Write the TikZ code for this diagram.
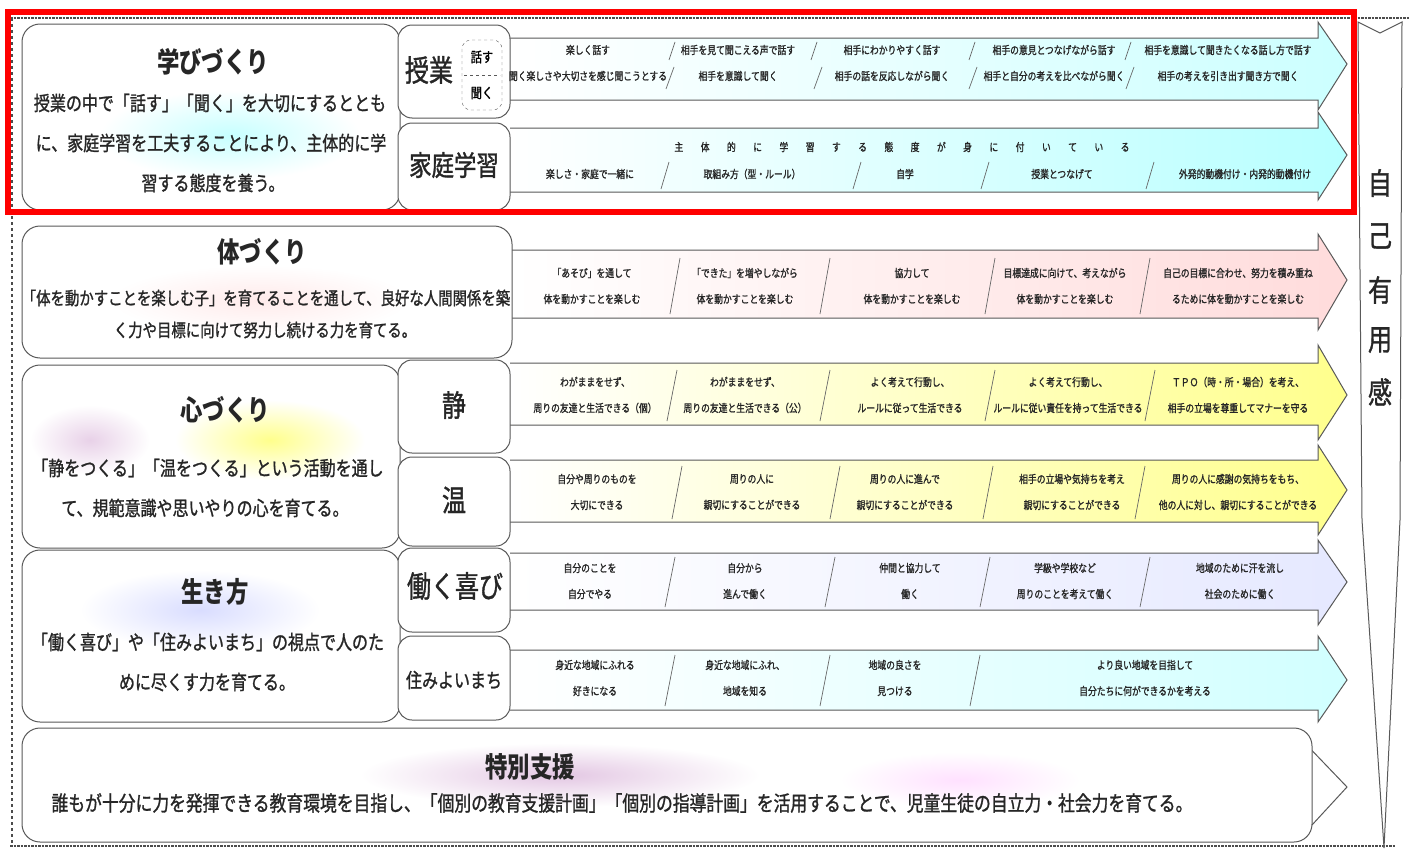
\documentclass[tikz,border=0pt]{standalone}
\usepackage{fontspec}
\newfontfamily\jp[FakeStretch=0.8]{Noto Sans CJK JP}
\newfontfamily\jpm[FakeStretch=0.8, FakeBold=1.2]{Noto Sans CJK JP}
\usepackage{tikz}
\tikzstyle{stg} = [font=\jpm\fontsize{11}{26}\selectfont, align=center, inner sep=0pt, text=black!85]
\tikzstyle{lead} = [font=\jpm\fontsize{20}{24}\selectfont, inner sep=0pt, text=black!85]
\tikzstyle{ttl} = [font=\jp\bfseries\fontsize{28}{30}\selectfont, inner sep=0pt, text=black!85]
\tikzstyle{big} = [font=\jpm\fontsize{30}{32}\selectfont, inner sep=0pt, text=black!85]
\tikzstyle{box} = [draw=black!65, line width=1pt, rounded corners=18pt, fill=white]
\tikzstyle{sub} = [draw=black!65, line width=1pt, rounded corners=14pt, fill=white]
\tikzstyle{bar} = [draw=black!65, line width=1pt]
\tikzstyle{cut} = [draw=black!60, line width=0.7pt]

\begin{document}
\begin{tikzpicture}[x=1pt, y=-1pt]
  \useasboundingbox (0,0) rectangle (1409,854);
  \fill[white] (0,0) rectangle (1409,854);

  % frame
  \draw[black!70, line width=2.5pt, densely dotted] (10,18) -- (1409,18);
  \draw[black!70, line width=2.5pt, densely dotted] (10,846) -- (1395,846);
  \draw[black!70, line width=1.5pt, dashed] (12,18) -- (12,846);

  % arrows
  \draw[bar, left color=white, right color=cyan!20] (510,38) -- (1318,38) -- (1318,22) -- (1347,64) -- (1318,110) -- (1318,100) -- (510,100);
  \draw[bar, left color=white, right color=cyan!28] (510,128) -- (1318,128) -- (1318,112) -- (1347,155) -- (1318,200) -- (1318,192) -- (510,192);
  \draw[bar, left color=white, right color=red!14] (512,250) -- (1318,250) -- (1318,234) -- (1347,280) -- (1318,330) -- (1318,318) -- (512,318);
  \draw[bar, left color=white, right color=yellow!45] (510,363) -- (1318,363) -- (1318,345) -- (1347,395) -- (1318,440) -- (1318,425) -- (510,425);
  \draw[bar, left color=white, right color=yellow!45] (510,460) -- (1318,460) -- (1318,445) -- (1347,490) -- (1318,535) -- (1318,522) -- (510,522);
  \draw[bar, left color=white, right color=cyan!12!blue!10] (510,553) -- (1318,553) -- (1318,540) -- (1347,582) -- (1318,625) -- (1318,610) -- (510,610);
  \draw[bar, left color=white, right color=cyan!18] (510,650) -- (1318,650) -- (1318,636) -- (1347,680) -- (1318,722) -- (1318,710) -- (510,710);
  \draw[bar, fill=white] (1300,738) -- (1347,787) -- (1300,838);

  % left boxes
  \draw[box] (22,24) rectangle (400,210);
  \shade[inner color=cyan!22, outer color=white] (230,135) ellipse (130 and 45);
  \draw[sub] (398,25) rectangle (510,118);
  \draw[sub] (398,123) rectangle (510,210);
  \draw[box] (22,226) rectangle (512,358);
  \shade[inner color=red!8, outer color=white] (260,300) ellipse (150 and 35);
  \draw[box] (22,365) rectangle (400,548);
  \shade[inner color=yellow!45, outer color=white] (270,440) ellipse (95 and 40);
  \shade[inner color=violet!18, outer color=white] (90,440) ellipse (60 and 35);
  \draw[sub] (398,360) rectangle (510,453);
  \draw[sub] (398,457) rectangle (510,546);
  \draw[box] (22,550) rectangle (400,722);
  \shade[inner color=cyan!10!blue!15, outer color=white] (200,610) ellipse (120 and 40);
  \draw[sub] (398,548) rectangle (510,632);
  \draw[sub] (398,636) rectangle (510,720);
  \draw[box] (22,728) rectangle (1312,842);
  \shade[inner color=violet!22, outer color=white] (560,775) ellipse (200 and 32);
  \shade[inner color=magenta!12, outer color=white] (960,780) ellipse (120 and 28);

  % right column
  \draw[bar, fill=white] (1358,22) -- (1380,33) -- (1402,22) -- (1400,520) -- (1384,848) -- (1362,520) -- cycle;
  \node (v1) at (1380,183) [big] {自};
  \node (v2) at (1380,236) [big] {己};
  \node (v3) at (1380,290) [big] {有};
  \node (v4) at (1380,340) [big] {用};
  \node (v5) at (1380,392) [big] {感};

  % highlight
  \draw[red, line width=6pt] (8,12) rectangle (1354,212);

  % 学びづくり
  \node (mana) at (213,62) [ttl] {学びづくり};
  \node (mana1) at (210,103) [lead] {授業の中で「話す」「聞く」を大切にするととも};
  \node (mana2) at (211,143) [lead] {に、家庭学習を工夫することにより、主体的に学};
  \node (mana3) at (213,183) [lead] {習する態度を養う。};
  \node (jugyo) at (429,70) [big] {授業};
  \draw[black!65, dashed, rounded corners=9pt] (462,40) rectangle (502,110);
  \draw[black!65, dashed] (464,75) -- (500,75);
  \node (hanasu) at (482,57) [font=\jpm\fontsize{14}{16}\selectfont, inner sep=0pt] {話す};
  \node (kiku) at (482,93) [font=\jpm\fontsize{14}{16}\selectfont, inner sep=0pt] {聞く};
  \node (katei) at (454,165) [big, font=\jpm\fontsize{28}{30}\selectfont] {家庭学習};

  \node (j1) at (588,63) [stg] {楽しく話す\\聞く楽しさや大切さを感じ聞こうとする};
  \node (j2) at (738,63) [stg] {相手を見て聞こえる声で話す\\相手を意識して聞く};
  \node (j3) at (892,63) [stg] {相手にわかりやすく話す\\相手の話を反応しながら聞く};
  \node (j4) at (1054,63) [stg] {相手の意見とつなげながら話す\\相手と自分の考えを比べながら聞く};
  \node (j5) at (1228,63) [stg] {相手を意識して聞きたくなる話し方で話す\\相手の考えを引き出す聞き方で聞く};
  \foreach \x in {672,814,972,1128} \draw[cut] (\x+3,42) -- (\x-3,60);
  \foreach \x in {670,818,973,1130} \draw[cut] (\x+4,67) -- (\x-4,89);

  \node (k0) at (902,147) [stg] {\makebox[455pt]{主\hfill 体\hfill 的\hfill に\hfill 学\hfill 習\hfill す\hfill る\hfill 態\hfill 度\hfill が\hfill 身\hfill に\hfill 付\hfill い\hfill て\hfill い\hfill る}};
  \node (k1) at (590,174) [stg] {楽しさ・家庭で一緒に};
  \node (k2) at (752,174) [stg] {取組み方（型・ルール）};
  \node (k3) at (905,174) [stg] {自学};
  \node (k4) at (1062,174) [stg] {授業とつなげて};
  \node (k5) at (1245,174) [stg] {外発的動機付け・内発的動機付け};
  \foreach \x in {665,857,985,1150} \draw[cut] (\x+4,162) -- (\x-4,189);

  % 体づくり
  \node (karada) at (262,252) [ttl] {体づくり};
  \node (karada1) at (266,298) [lead, font=\jpm\fontsize{18}{20}\selectfont] {「体を動かすことを楽しむ子」を育てることを通して、良好な人間関係を築};
  \node (karada2) at (265,330) [lead, font=\jpm\fontsize{18}{20}\selectfont] {く力や目標に向けて努力し続ける力を育てる。};
  \node (t1) at (592,286) [stg] {「あそび」を通して\\体を動かすことを楽しむ};
  \node (t2) at (745,286) [stg] {「できた」を増やしながら\\体を動かすことを楽しむ};
  \node (t3) at (912,286) [stg] {協力して\\体を動かすことを楽しむ};
  \node (t4) at (1065,286) [stg] {目標達成に向けて、考えながら\\体を動かすことを楽しむ};
  \node (t5) at (1238,286) [stg] {自己の目標に合わせ、努力を積み重ね\\るために体を動かすことを楽しむ};
  \foreach \x in {675,825,990,1145} \draw[cut] (\x+5,258) -- (\x-5,314);

  % 心づくり
  \node (kokoro) at (225,410) [ttl] {心づくり};
  \node (kokoro1) at (208,468) [lead] {「静をつくる」「温をつくる」という活動を通し};
  \node (kokoro2) at (205,508) [lead] {て、規範意識や思いやりの心を育てる。};
  \node (sei) at (454,405) [big] {静};
  \node (on) at (454,500) [big] {温};
  \node (s1) at (595,395) [stg] {わがままをせず、\\周りの友達と生活できる（個）};
  \node (s2) at (745,395) [stg] {わがままをせず、\\周りの友達と生活できる（公）};
  \node (s3) at (910,395) [stg] {よく考えて行動し、\\ルールに従って生活できる};
  \node (s4) at (1068,395) [stg] {よく考えて行動し、\\ルールに従い責任を持って生活できる};
  \node (s5) at (1238,395) [stg] {ＴＰＯ（時・所・場合）を考え、\\相手の立場を尊重してマナーを守る};
  \foreach \x in {672,825,990,1150} \draw[cut] (\x+5,370) -- (\x-5,421);
  \node (o1) at (597,492) [stg] {自分や周りのものを\\大切にできる};
  \node (o2) at (752,492) [stg] {周りの人に\\親切にすることができる};
  \node (o3) at (905,492) [stg] {周りの人に進んで\\親切にすることができる};
  \node (o4) at (1072,492) [stg] {相手の立場や気持ちを考え\\親切にすることができる};
  \node (o5) at (1238,492) [stg] {周りの人に感謝の気持ちをもち、\\他の人に対し、親切にすることができる};
  \foreach \x in {677,835,988,1140} \draw[cut] (\x+5,466) -- (\x-5,519);

  % 生き方
  \node (ikikata) at (215,592) [ttl] {生き方};
  \node (ikikata1) at (208,642) [lead] {「働く喜び」や「住みよいまち」の視点で人のた};
  \node (ikikata2) at (207,682) [lead] {めに尽くす力を育てる。};
  \node (hataraku) at (455,586) [big] {働く喜び};
  \node (sumiyoi) at (454,680) [lead] {住みよいまち};
  \node (h1) at (590,581) [stg] {自分のことを\\自分でやる};
  \node (h2) at (745,581) [stg] {自分から\\進んで働く};
  \node (h3) at (910,581) [stg] {仲間と協力して\\働く};
  \node (h4) at (1065,581) [stg] {学級や学校など\\周りのことを考えて働く};
  \node (h5) at (1240,581) [stg] {地域のために汗を流し\\社会のために働く};
  \foreach \x in {670,830,985,1145} \draw[cut] (\x+5,557) -- (\x-5,607);
  \node (m1) at (595,678) [stg] {身近な地域にふれる\\好きになる};
  \node (m2) at (745,678) [stg] {身近な地域にふれ、\\地域を知る};
  \node (m3) at (895,678) [stg] {地域の良さを\\見つける};
  \node (m4) at (1145,678) [stg] {より良い地域を目指して\\自分たちに何ができるかを考える};
  \foreach \x in {670,825,975} \draw[cut] (\x+5,655) -- (\x-5,706);

  % 特別支援
  \node (tokubetsu) at (530,767) [ttl] {特別支援};
  \node (tokubetsu1) at (622,803) [lead, font=\jpm\fontsize{21}{24}\selectfont] {誰もが十分に力を発揮できる教育環境を目指し、「個別の教育支援計画」「個別の指導計画」を活用することで、児童生徒の自立力・社会力を育てる。};
\end{tikzpicture}
\end{document}
